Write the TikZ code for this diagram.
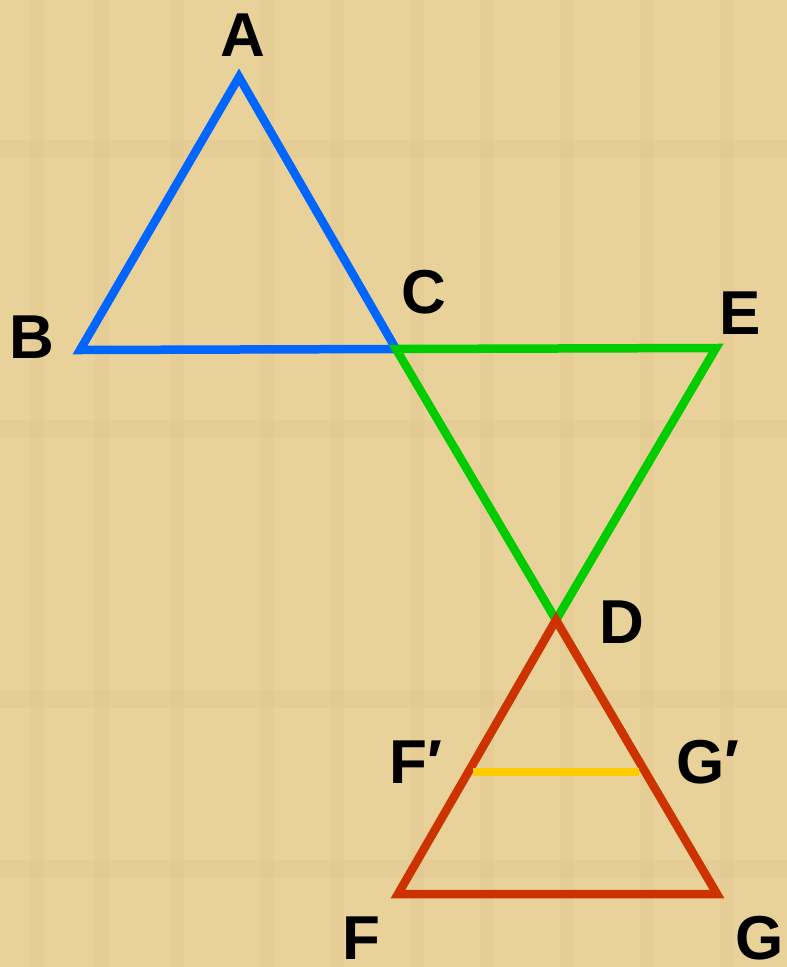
\documentclass[tikz,border=0pt]{standalone}
\usepackage{fontspec}
\setmainfont{Liberation Sans}
\usepackage{xcolor}
\definecolor{papyrus}{RGB}{233,209,154}
\definecolor{papyrusdark}{RGB}{222,196,138}
\definecolor{triblue}{RGB}{0,102,255}
\definecolor{trigreen}{RGB}{0,204,0}
\definecolor{trired}{RGB}{204,51,0}
\definecolor{triyellow}{RGB}{255,204,0}

\begin{document}
\begin{tikzpicture}[
  x=1pt, y=-1pt,
  side/.style={line width=8.5pt, line join=miter},
  vlabel/.style={font=\fontsize{62}{62}\bfseries\selectfont, text=black, inner sep=0pt},
]

% Background
\fill[papyrus] (0,0) rectangle (787,967);
\foreach \xs in {30,95,170,260,330,410,480,560,640,720}
  \fill[papyrusdark, opacity=0.3] (\xs,0) rectangle (\xs+14,967);
\foreach \ys in {140,420,690,860}
  \fill[papyrusdark, opacity=0.25] (0,\ys) rectangle (787,\ys+18);
\useasboundingbox (0,0) rectangle (787,967);

% Vertices
\coordinate (a) at (239,77);
\coordinate (b) at (80,350);
\coordinate (c) at (396,349);
\coordinate (e) at (716,348);
\coordinate (d) at (556,620);
\coordinate (f) at (398,894);
\coordinate (g) at (717,894);
\coordinate (fp) at (473,772);
\coordinate (gp) at (639,772);

% Triangles
\draw[side, triblue] (a) -- (b) -- (c) -- cycle;
\draw[side, trigreen] (c) -- (e) -- (d) -- cycle;
\draw[side, trired] (d) -- (f) -- (g) -- cycle;
\draw[side, triyellow] (fp) -- (gp);

% Labels
\node[vlabel] (la) at (243,35) {A};
\node[vlabel] (lb) at (32,337) {B};
\node[vlabel] (lc) at (424,292) {C};
\node[vlabel] (le) at (740,313) {E};
\node[vlabel] (ld) at (622,622) {D};
\node[vlabel] (lfp) at (416,762) {F′};
\node[vlabel] (lgp) at (708,762) {G′};
\node[vlabel] (lf) at (361,938) {F};
\node[vlabel] (lg) at (760,938) {G};

\end{tikzpicture}
\end{document}
